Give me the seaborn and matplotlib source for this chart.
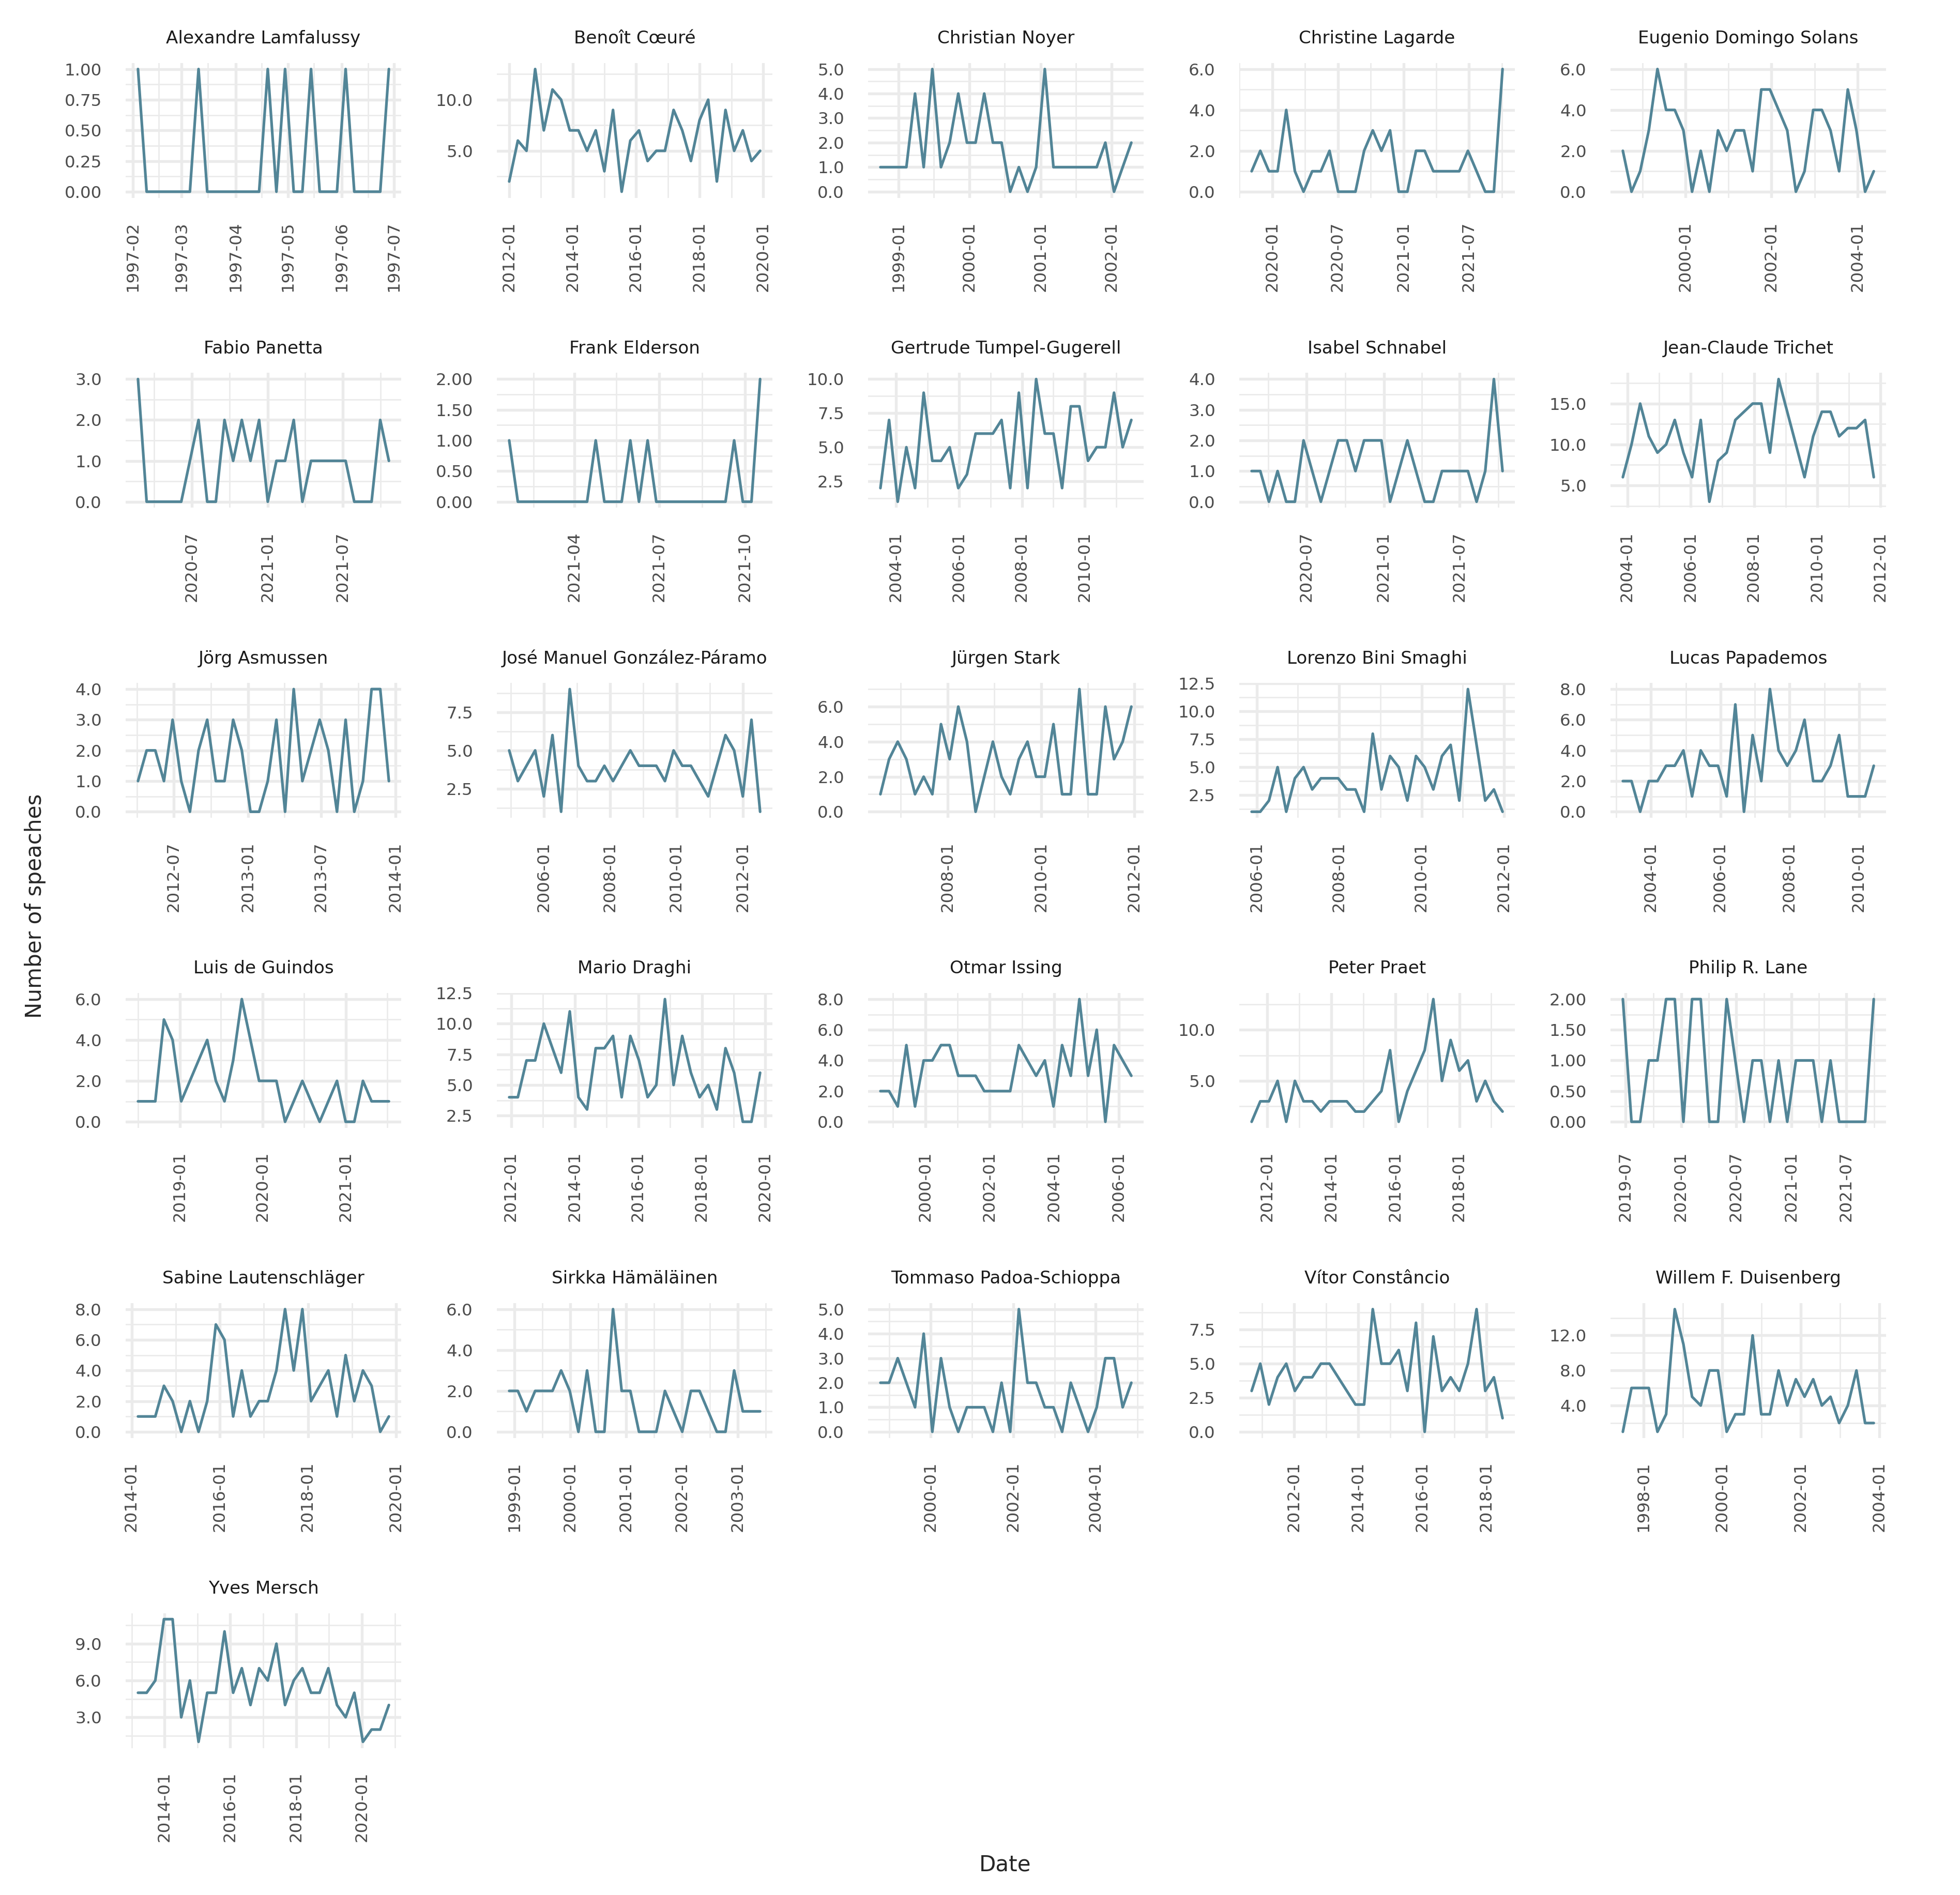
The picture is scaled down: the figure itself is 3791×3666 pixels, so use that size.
import matplotlib
matplotlib.use("Agg")
import matplotlib.dates as mdates
import matplotlib.pyplot as plt
import pandas as pd
import seaborn as sns
from matplotlib.ticker import FormatStrFormatter, MultipleLocator

# speeches per period, one series of 30 bins per speaker
speakers = [
    "Alexandre Lamfalussy", "Benoît Cœuré", "Christian Noyer", "Christine Lagarde",
    "Eugenio Domingo Solans", "Fabio Panetta", "Frank Elderson", "Gertrude Tumpel-Gugerell",
    "Isabel Schnabel", "Jean-Claude Trichet", "Jörg Asmussen", "José Manuel González-Páramo",
    "Jürgen Stark", "Lorenzo Bini Smaghi", "Lucas Papademos", "Luis de Guindos",
    "Mario Draghi", "Otmar Issing", "Peter Praet", "Philip R. Lane",
    "Sabine Lautenschläger", "Sirkka Hämäläinen", "Tommaso Padoa-Schioppa",
    "Vítor Constâncio", "Willem F. Duisenberg", "Yves Mersch",
]
first_dates = [
    "1997-02-04", "2012-01-01", "1998-09-30", "2019-11-04", "1998-07-19",
    "2020-02-22", "2021-01-21", "2003-07-03", "2020-02-21", "2003-11-10",
    "2012-04-03", "2004-12-16", "2006-07-25", "2005-11-17", "2003-03-10",
    "2018-07-01", "2011-12-10", "1998-08-10", "2011-07-08", "2019-06-22",
    "2014-02-23", "1998-11-27", "1998-10-15", "2010-09-07", "1997-06-22",
    "2013-03-12",
]
last_dates = [
    "1997-06-28", "2019-11-28", "2002-04-13", "2021-10-03", "2004-05-18",
    "2021-10-21", "2021-10-17", "2011-06-25", "2021-10-11", "2011-10-14",
    "2013-12-16", "2012-07-09", "2011-12-07", "2011-12-20", "2010-06-06",
    "2021-07-09", "2019-11-01", "2006-05-24", "2019-05-09", "2021-09-30",
    "2019-11-03", "2003-05-27", "2004-11-10", "2018-07-01", "2003-11-10",
    "2020-10-27",
]

lamfalussy = [1, 0, 0, 0, 0, 0, 0, 1, 0, 0, 0, 0, 0, 0, 0, 1, 0, 1, 0, 0, 1, 0, 0, 0, 1, 0, 0, 0, 0, 1]
coeure = [2, 6, 5, 13, 7, 11, 10, 7, 7, 5, 7, 3, 9, 1, 6, 7, 4, 5, 5, 9, 7, 4, 8, 10, 2, 9, 5, 7, 4, 5]
noyer = [1, 1, 1, 1, 4, 1, 5, 1, 2, 4, 2, 2, 4, 2, 2, 0, 1, 0, 1, 5, 1, 1, 1, 1, 1, 1, 2, 0, 1, 2]
lagarde = [1, 2, 1, 1, 4, 1, 0, 1, 1, 2, 0, 0, 0, 2, 3, 2, 3, 0, 0, 2, 2, 1, 1, 1, 1, 2, 1, 0, 0, 6]
solans = [2, 0, 1, 3, 6, 4, 4, 3, 0, 2, 0, 3, 2, 3, 3, 1, 5, 5, 4, 3, 0, 1, 4, 4, 3, 1, 5, 3, 0, 1]
panetta = [3, 0, 0, 0, 0, 0, 1, 2, 0, 0, 2, 1, 2, 1, 2, 0, 1, 1, 2, 0, 1, 1, 1, 1, 1, 0, 0, 0, 2, 1]
elderson = [1, 0, 0, 0, 0, 0, 0, 0, 0, 0, 1, 0, 0, 0, 1, 0, 1, 0, 0, 0, 0, 0, 0, 0, 0, 0, 1, 0, 0, 2]
tumpel = [2, 7, 1, 5, 2, 9, 4, 4, 5, 2, 3, 6, 6, 6, 7, 2, 9, 2, 10, 6, 6, 2, 8, 8, 4, 5, 5, 9, 5, 7]
schnabel = [1, 1, 0, 1, 0, 0, 2, 1, 0, 1, 2, 2, 1, 2, 2, 2, 0, 1, 2, 1, 0, 0, 1, 1, 1, 1, 0, 1, 4, 1]
trichet = [6, 10, 15, 11, 9, 10, 13, 9, 6, 13, 3, 8, 9, 13, 14, 15, 15, 9, 18, 14, 10, 6, 11, 14, 14, 11, 12, 12, 13, 6]
asmussen = [1, 2, 2, 1, 3, 1, 0, 2, 3, 1, 1, 3, 2, 0, 0, 1, 3, 0, 4, 1, 2, 3, 2, 0, 3, 0, 1, 4, 4, 1]
paramo = [5, 3, 4, 5, 2, 6, 1, 9, 4, 3, 3, 4, 3, 4, 5, 4, 4, 4, 3, 5, 4, 4, 3, 2, 4, 6, 5, 2, 7, 1]
stark = [1, 3, 4, 3, 1, 2, 1, 5, 3, 6, 4, 0, 2, 4, 2, 1, 3, 4, 2, 2, 5, 1, 1, 7, 1, 1, 6, 3, 4, 6]
bini_smaghi = [1, 1, 2, 5, 1, 4, 5, 3, 4, 4, 4, 3, 3, 1, 8, 3, 6, 5, 2, 6, 5, 3, 6, 7, 2, 12, 7, 2, 3, 1]
papademos = [2, 2, 0, 2, 2, 3, 3, 4, 1, 4, 3, 3, 1, 7, 0, 5, 2, 8, 4, 3, 4, 6, 2, 2, 3, 5, 1, 1, 1, 3]
de_guindos = [1, 1, 1, 5, 4, 1, 2, 3, 4, 2, 1, 3, 6, 4, 2, 2, 2, 0, 1, 2, 1, 0, 1, 2, 0, 0, 2, 1, 1, 1]
draghi = [4, 4, 7, 7, 10, 8, 6, 11, 4, 3, 8, 8, 9, 4, 9, 7, 4, 5, 12, 5, 9, 6, 4, 5, 3, 8, 6, 2, 2, 6]
issing = [2, 2, 1, 5, 1, 4, 4, 5, 5, 3, 3, 3, 2, 2, 2, 2, 5, 4, 3, 4, 1, 5, 3, 8, 3, 6, 0, 5, 4, 3]
praet = [1, 3, 3, 5, 1, 5, 3, 3, 2, 3, 3, 3, 2, 2, 3, 4, 8, 1, 4, 6, 8, 13, 5, 9, 6, 7, 3, 5, 3, 2]
lane = [2, 0, 0, 1, 1, 2, 2, 0, 2, 2, 0, 0, 2, 1, 0, 1, 1, 0, 1, 0, 1, 1, 1, 0, 1, 0, 0, 0, 0, 2]
lautenschlaeger = [1, 1, 1, 3, 2, 0, 2, 0, 2, 7, 6, 1, 4, 1, 2, 2, 4, 8, 4, 8, 2, 3, 4, 1, 5, 2, 4, 3, 0, 1]
hamalainen = [2, 2, 1, 2, 2, 2, 3, 2, 0, 3, 0, 0, 6, 2, 2, 0, 0, 0, 2, 1, 0, 2, 2, 1, 0, 0, 3, 1, 1, 1]
padoa_schioppa = [2, 2, 3, 2, 1, 4, 0, 3, 1, 0, 1, 1, 1, 0, 2, 0, 5, 2, 2, 1, 1, 0, 2, 1, 0, 1, 3, 3, 1, 2]
constancio = [3, 5, 2, 4, 5, 3, 4, 4, 5, 5, 4, 3, 2, 2, 9, 5, 5, 6, 3, 8, 0, 7, 3, 4, 3, 5, 9, 3, 4, 1]
duisenberg = [1, 6, 6, 6, 1, 3, 15, 11, 5, 4, 8, 8, 1, 3, 3, 12, 3, 3, 8, 4, 7, 5, 7, 4, 5, 2, 4, 8, 2, 2]
mersch = [5, 5, 6, 11, 11, 3, 6, 1, 5, 5, 10, 5, 7, 4, 7, 6, 9, 4, 6, 7, 5, 5, 7, 4, 3, 5, 1, 2, 2, 4]

counts = [
    lamfalussy, coeure, noyer, lagarde, solans, panetta, elderson, tumpel,
    schnabel, trichet, asmussen, paramo, stark, bini_smaghi, papademos,
    de_guindos, draghi, issing, praet, lane, lautenschlaeger, hamalainen,
    padoa_schioppa, constancio, duisenberg, mersch,
]

# axis break spacing per panel (styling only)
y_steps = [0.25, 5, 1, 2, 2, 1, 0.5, 2.5, 1, 5, 1, 2.5, 2, 2.5, 2,
           2, 2.5, 2, 5, 0.5, 2, 2, 1, 2.5, 4, 3]
x_breaks = ["1M", "2Y", "1Y", "6M", "2Y", "6M", "3M", "2Y", "6M", "2Y",
            "6M", "2Y", "2Y", "2Y", "2Y", "1Y", "2Y", "2Y", "2Y", "6M",
            "2Y", "1Y", "2Y", "2Y", "2Y", "2Y"]

frames = []
for name, start, end, vals in zip(speakers, first_dates, last_dates, counts):
    dates = pd.date_range(start, end, periods=len(vals))
    frames.append(pd.DataFrame({"speaker": name, "date": dates, "speeches": vals}))
df = pd.concat(frames, ignore_index=True)

LINE = "#528597"
GRID = "#ebebeb"


def date_locators(code):
    if code == "1M":
        return mdates.MonthLocator(), mdates.MonthLocator(bymonthday=16)
    if code == "3M":
        return (mdates.MonthLocator(bymonth=[1, 4, 7, 10]),
                mdates.MonthLocator(bymonth=[2, 5, 8, 11], bymonthday=16))
    if code == "6M":
        return mdates.MonthLocator(bymonth=[1, 7]), mdates.MonthLocator(bymonth=[4, 10])
    if code == "1Y":
        return mdates.YearLocator(1), mdates.MonthLocator(bymonth=[7])
    return mdates.YearLocator(2), mdates.YearLocator(1)


sns.set_style("white")
plt.rcParams["font.family"] = ["DejaVu Sans"]

fig, axes = plt.subplots(6, 5, figsize=(3791 / 300, 3666 / 300), dpi=300)
fig.subplots_adjust(left=0.064, right=0.9624, top=0.9668, bottom=0.0776,
                    wspace=0.345, hspace=1.298)

for i, ax in enumerate(axes.flat):
    if i >= len(speakers):
        ax.set_visible(False)
        continue
    name = speakers[i]
    sub = df[df["speaker"] == name]
    sns.lineplot(data=sub, x="date", y="speeches", ax=ax, color=LINE, linewidth=1.25)
    ax.set_xlabel("")
    ax.set_ylabel("")
    ax.set_title(name, fontsize=8.2, color="#1a1a1a", pad=9)

    step = y_steps[i]
    ax.yaxis.set_major_locator(MultipleLocator(step))
    ax.yaxis.set_minor_locator(MultipleLocator(step / 2))
    fmt = "%.2f" if max(counts[i]) <= 2 else "%.1f"
    ax.yaxis.set_major_formatter(FormatStrFormatter(fmt))

    major, minor = date_locators(x_breaks[i])
    ax.xaxis.set_major_locator(major)
    ax.xaxis.set_minor_locator(minor)
    ax.xaxis.set_major_formatter(mdates.DateFormatter("%Y-%m"))

    ax.grid(which="major", color=GRID, linewidth=1.3)
    ax.grid(which="minor", color=GRID, linewidth=0.65)
    ax.set_axisbelow(True)
    for sp in ax.spines.values():
        sp.set_visible(False)
    ax.tick_params(which="both", length=0, pad=11, labelsize=7.8, colors="#4d4d4d")
    ax.tick_params(axis="x", labelrotation=90)

fig.text(0.5128, 0.016, "Date", ha="center", va="center", fontsize=10.1)
fig.text(0.018, 0.522, "Number of speaches", rotation=90, ha="center", va="center",
         fontsize=10.1)

fig.savefig("out.png", dpi=300)
